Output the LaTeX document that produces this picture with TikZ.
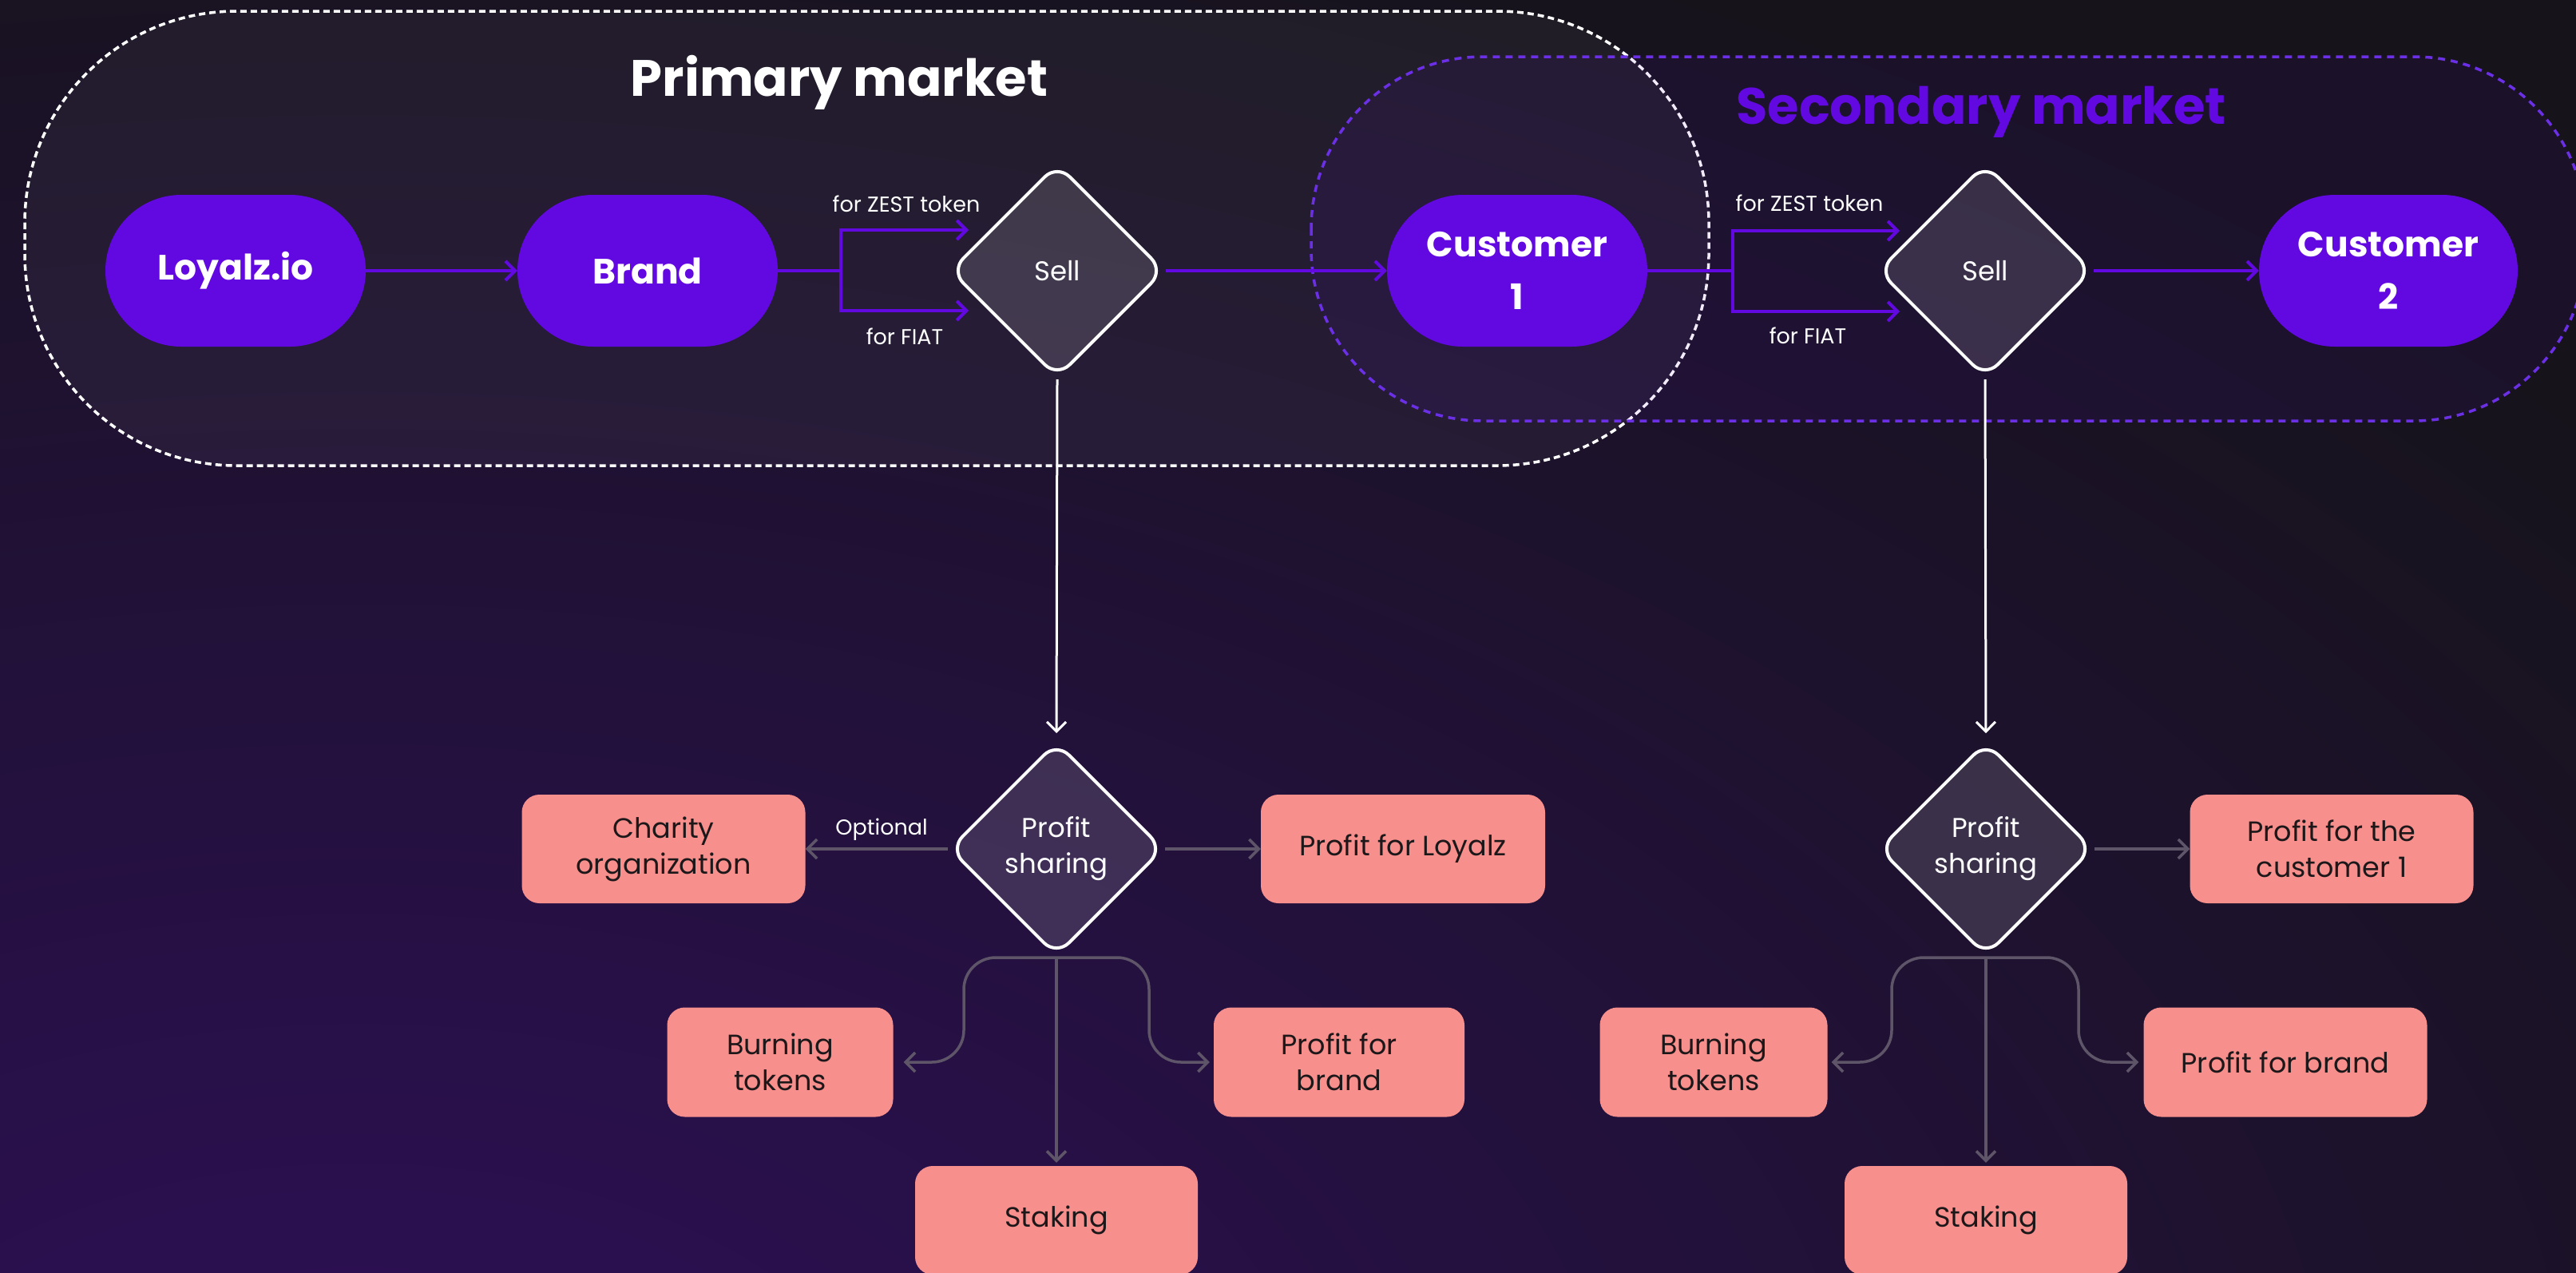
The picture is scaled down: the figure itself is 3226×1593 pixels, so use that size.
\documentclass[tikz,border=0pt]{standalone}
\usepackage{fontspec}
\setmainfont{Poppins}
\usetikzlibrary{arrows.meta,shapes.geometric,calc}

\definecolor{bgdark}{HTML}{16131B}
\definecolor{bgpurple}{HTML}{2E0F58}
\definecolor{violet}{HTML}{6209E2}
\definecolor{violetdash}{HTML}{6B2FE6}
\definecolor{salmon}{HTML}{F78F8D}
\definecolor{linkgray}{HTML}{5E5569}
\definecolor{inktext}{HTML}{1C1719}

\tikzset{
  pill/.style={fill=violet, rounded corners=95, minimum width=326, minimum height=190,
    inner sep=0, text=white, align=center, font=\fontsize{44}{66}\selectfont\bfseries},
  decision/.style={diamond, aspect=1, minimum width=268, minimum height=268, inner sep=0,
    draw=white, line width=4, fill=white, fill opacity=0.13, text opacity=1, draw opacity=1,
    rounded corners=22, text=white, align=center, font=\fontsize{34}{45}\selectfont},
  outcome/.style={fill=salmon, rounded corners=22, minimum height=136, inner sep=0,
    text=inktext, align=center, font=\fontsize{35}{45}\selectfont},
  flow/.style={draw=violet, line width=4, -{Straight Barb[length=12,width=24]}},
  flowline/.style={draw=violet, line width=4},
  down/.style={draw=white, line width=3, -{Straight Barb[length=12,width=24]}},
  share/.style={draw=linkgray, line width=3.5, rounded corners=40, -{Straight Barb[length=12,width=24]}},
  tag/.style={text=white, font=\fontsize{27}{32}\selectfont, anchor=base, inner sep=0},
  heading/.style={font=\fontsize{64}{76}\selectfont\bfseries, anchor=base, inner sep=0},
}

\begin{document}
\begin{tikzpicture}[x=1pt,y=-1pt]
\useasboundingbox (0,0) rectangle (3226,1593);

% backdrop with a violet glow from the lower left
\fill[bgdark] (0,0) rectangle (3226,1593);
\begin{scope}
  \clip (0,0) rectangle (3226,1593);
  \shade[inner color=bgpurple, outer color=bgdark] (450,1850) ellipse (3600 and 2100);
\end{scope}

% market zones
\begin{scope}
  \clip (0,0) rectangle (3226,1593);
  \draw[white, line width=3.5, dash pattern=on 8 off 5, fill=white, fill opacity=0.045, draw opacity=1,
        rounded corners=265] (31,14) rectangle (2140,583);
  \draw[violetdash, line width=3.5, dash pattern=on 9 off 7, fill=violet, fill opacity=0.08, draw opacity=1,
        rounded corners=215] (1642,71) rectangle (3238,527);
\end{scope}

\node[heading, text=white] (primarytitle) at (1051,120) {Primary market};
\node[heading, text=violet] (secondarytitle) at (2481,155) {Secondary market};

% top row
\node[pill] (loyalz) at (295,339) {Loyalz.io};
\node[pill] (brand) at (811,339) {Brand};
\node[decision] (sell1) at (1324,339) {Sell};
\node[pill] (cust1) at (1900,339) {Customer\\1};
\node[decision] (sell2) at (2486,339) {Sell};
\node[pill, minimum width=324] (cust2) at (2991,339) {Customer\\2};

\coordinate (fork1) at (1053,339);
\coordinate (zest1) at (1213,288);
\coordinate (fiat1) at (1213,389);
\coordinate (fork2) at (2170,339);
\coordinate (zest2) at (2379,289);
\coordinate (fiat2) at (2379,390);

\draw[flow] (loyalz) -- (brand);
\draw[flowline] (brand.east) -- (fork1);
\draw[flow] (fork1) |- (zest1);
\draw[flow] (fork1) |- (fiat1);
\draw[flow] (sell1.east) -- (cust1.west);
\draw[flowline] (cust1.east) -- (fork2);
\draw[flow] (fork2) |- (zest2);
\draw[flow] (fork2) |- (fiat2);
\draw[flow] (sell2.east) -- (cust2.west);

\node[tag] (zestlbl1) at (1135,265) {for ZEST token};
\node[tag] (fiatlbl1) at (1133,431) {for FIAT};
\node[tag] (zestlbl2) at (2266,264) {for ZEST token};
\node[tag] (fiatlbl2) at (2264,430) {for FIAT};

% profit sharing, primary sale
\node[decision] (share1) at (1323,1063) {Profit\\sharing};
\node[outcome, minimum width=355] (charity) at (831,1063) {Charity\\organization};
\node[outcome, minimum width=356] (ployalz) at (1757,1063) {Profit for Loyalz};
\node[outcome, minimum width=283, minimum height=137] (burn1) at (977,1330) {Burning\\tokens};
\node[outcome, minimum width=314, minimum height=137] (pbrand1) at (1677,1330) {Profit for\\brand};
\node[outcome, minimum width=354] (stake1) at (1323,1528) {Staking};

\draw[down, shorten >=9] (sell1.south) -- (share1.north);
\draw[share] (share1.west) -- (charity.east);
\draw[share] (share1.east) -- (ployalz.west);
\draw[share, shorten >=13] (share1.south) -- ++(-116,0) |- (burn1.east);
\draw[share, shorten >=5] (share1.south) -- ++(116,0) |- (pbrand1.west);
\draw[share, rounded corners=0, shorten >=4] (share1.south) -- (stake1.north);
\node[tag] (optlbl) at (1104,1045) {Optional};

% profit sharing, secondary sale
\node[decision] (share2) at (2487,1063) {Profit\\sharing};
\node[outcome, minimum width=355] (pcust) at (2920,1063) {Profit for the\\customer 1};
\node[outcome, minimum width=285, minimum height=137] (burn2) at (2146,1330) {Burning\\tokens};
\node[outcome, minimum width=355, minimum height=137] (pbrand2) at (2862,1330) {Profit for brand};
\node[outcome, minimum width=354] (stake2) at (2487,1528) {Staking};

\draw[down, shorten >=9] (sell2.south) -- (share2.north);
\draw[share] (share2.east) -- (pcust.west);
\draw[share, shorten >=5] (share2.south) -- ++(-118,0) |- (burn2.east);
\draw[share, shorten >=6] (share2.south) -- ++(116,0) |- (pbrand2.west);
\draw[share, rounded corners=0, shorten >=4] (share2.south) -- (stake2.north);
\end{tikzpicture}
\end{document}
